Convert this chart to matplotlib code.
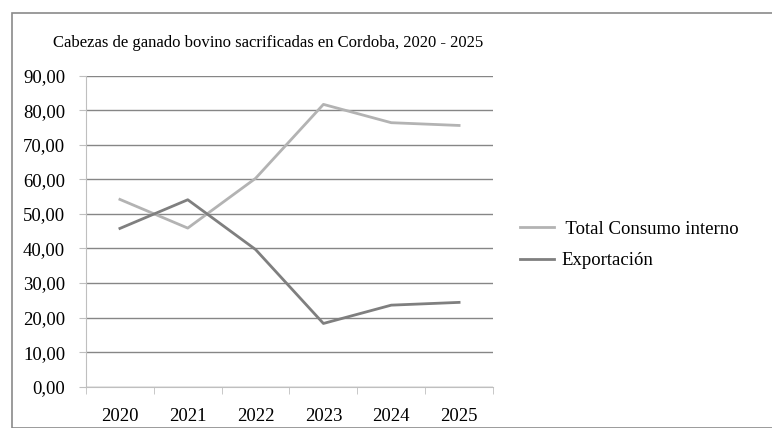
import numpy as np
import matplotlib.pyplot as plt
from matplotlib.patches import Rectangle
from matplotlib.ticker import FuncFormatter, FixedLocator

plt.rcParams['font.family'] = ['Liberation Serif', 'DejaVu Serif']

years = ["2020", "2021", "2022", "2023", "2024", "2025"]
consumo = [54.2, 45.9, 60.3, 81.7, 76.4, 75.6]
exportacion = [45.8, 54.1, 39.7, 18.3, 23.6, 24.4]

fig = plt.figure(figsize=(7.72, 4.28), dpi=100)

# marco del grafico
fig.patches.append(Rectangle((12 / 772, 0), 1, 1 - 13 / 428, transform=fig.transFigure,
                             fill=False, edgecolor="#8a8a8a", linewidth=1.2))

ax = fig.add_axes([86 / 772, 1 - 386.7 / 428, 407 / 772, 311 / 428])
x = np.arange(len(years))
ax.plot(x, consumo, color="#b3b3b3", lw=2, label=" Total Consumo interno")
ax.plot(x, exportacion, color="#7f7f7f", lw=2, label="Exportación")

ax.set_xlim(-0.5, len(years) - 0.5)
ax.set_ylim(0, 90)
ax.set_yticks(np.arange(0, 91, 10))
ax.yaxis.set_major_formatter(FuncFormatter(lambda v, p: f"{v:.2f}".replace(".", ",")))
ax.set_xticks(x)
ax.set_xticklabels(years)
ax.xaxis.set_minor_locator(FixedLocator(np.arange(-0.5, len(years), 1)))
ax.tick_params(axis='x', which='major', length=0, pad=15, labelsize=13.5)
ax.tick_params(axis='x', which='minor', length=5, color="#bfbfbf")
ax.tick_params(axis='y', length=5, color="#bfbfbf", pad=10, labelsize=13.5)

ax.grid(axis='y', color="#868686", lw=1)
ax.set_axisbelow(True)
for s in ["top", "right"]:
    ax.spines[s].set_visible(False)
ax.spines["left"].set_color("#bfbfbf")
ax.spines["bottom"].set_color("#bfbfbf")

fig.text(268 / 772, 1 - 43 / 428,
         "Cabezas de ganado bovino sacrificadas en Cordoba, 2020 - 2025",
         ha="center", va="center", fontsize=12)

ax.legend(loc="center left", bbox_to_anchor=(503 / 772, 1 - 245 / 428),
          bbox_transform=fig.transFigure, frameon=False, fontsize=13.5,
          handlelength=1.8, handletextpad=0.4, labelspacing=0.75)

fig.savefig("out.png", dpi=100)
